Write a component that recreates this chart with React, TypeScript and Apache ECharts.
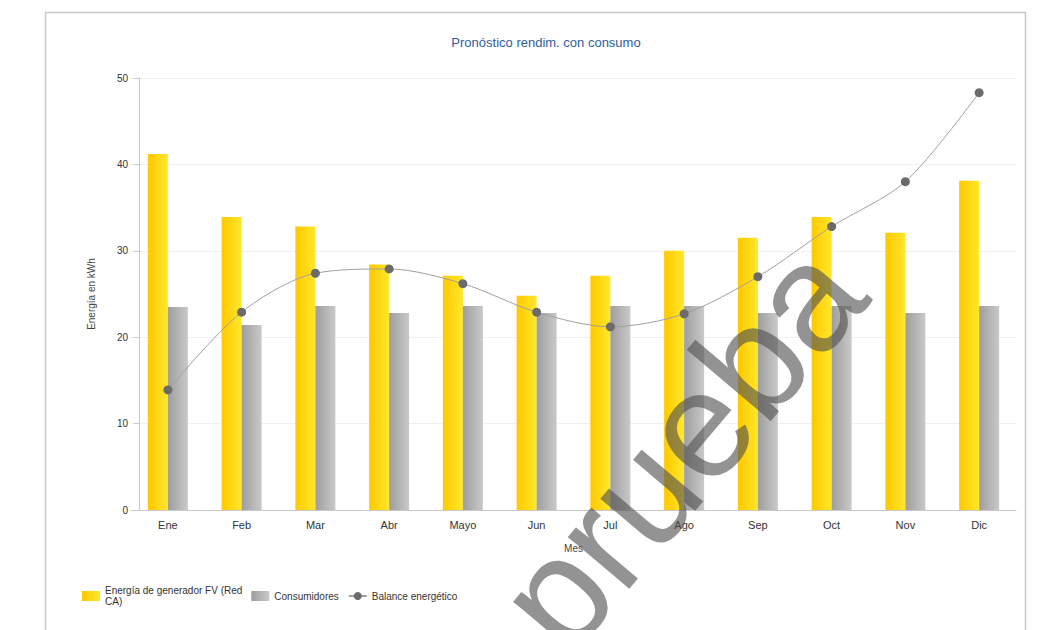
import React, { useEffect, useRef } from "react";
import * as echarts from "echarts";

const months = ["Ene", "Feb", "Mar", "Abr", "Mayo", "Jun", "Jul", "Ago", "Sep", "Oct", "Nov", "Dic"];
const generacionFV = [41.2, 33.9, 32.8, 28.4, 27.1, 24.8, 27.1, 30.0, 31.5, 33.9, 32.1, 38.1];
const consumidores = [23.5, 21.4, 23.6, 22.8, 23.6, 22.8, 23.6, 23.6, 22.8, 23.6, 22.8, 23.6];
const balance = [13.9, 22.9, 27.4, 27.9, 26.2, 22.9, 21.2, 22.7, 27.0, 32.8, 38.0, 48.3];
const yTicks = { min: 0, max: 50, interval: 10 };

const FONT = "Liberation Sans, Arial, sans-serif";

export default function App() {
  const ref = useRef<HTMLDivElement>(null);
  useEffect(() => {
    if (!ref.current) return;
    const chart = echarts.init(ref.current, null, { renderer: "svg" });
    const yellow = new echarts.graphic.LinearGradient(0, 0, 1, 0, [
      { offset: 0, color: "#FFC800" },
      { offset: 1, color: "#FFE82A" },
    ]);
    const gray = new echarts.graphic.LinearGradient(0, 0, 1, 0, [
      { offset: 0, color: "#9E9E9E" },
      { offset: 1, color: "#C9C9C9" },
    ]);
    chart.setOption({
      animation: false,
      backgroundColor: "#ffffff",
      textStyle: { fontFamily: FONT },
      title: {
        text: "Pronóstico rendim. con consumo",
        left: 541,
        textAlign: "center",
        top: 31,
        textStyle: { color: "#2F5D9B", fontSize: 13, fontWeight: "normal", fontFamily: FONT },
      },
      graphic: [
        {
          type: "rect",
          shape: { x: 45.5, y: 12.5, width: 980, height: 640 },
          style: { fill: "none", stroke: "#c8c8c8", lineWidth: 1.5 },
          silent: true,
          z: -1,
        },
        {
          type: "text",
          x: 612,
          y: 527,
          rotation: 0.87,
          style: {
            text: "de prueba",
            fill: "rgba(80,80,80,0.62)",
            font: "normal 152px Liberation Sans Narrow, Liberation Sans, Arial, sans-serif",
            align: "center",
            verticalAlign: "middle",
          },
          silent: true,
          z: 100,
        },
      ],
      legend: {
        left: 82,
        top: 585,
        padding: 0,
        itemWidth: 18,
        itemHeight: 10,
        itemGap: 9,
        formatter: (name: string) => name.replace(" CA)", "\nCA)"),
        textStyle: { fontSize: 10, color: "#333", lineHeight: 11 },
        data: [
          { name: "Energía de generador FV (Red CA)", icon: "rect" },
          { name: "Consumidores", icon: "rect" },
          { name: "Balance energético" },
        ],
      },
      grid: { left: 131, right: 39, top: 78, bottom: 120, containLabel: false },
      xAxis: {
        type: "category",
        data: months,
        name: "Mes",
        nameLocation: "middle",
        nameGap: 33,
        nameTextStyle: { fontSize: 10, color: "#444" },
        axisLine: { lineStyle: { color: "#c8c8c8" } },
        axisTick: { alignWithLabel: true, length: 5, lineStyle: { color: "#c8c8c8" } },
        axisLabel: { fontSize: 11, color: "#333", margin: 9 },
      },
      yAxis: {
        type: "value",
        min: yTicks.min,
        max: yTicks.max,
        interval: yTicks.interval,
        offset: -8,
        name: "Energía en kWh",
        nameLocation: "middle",
        nameGap: 43,
        nameTextStyle: { fontSize: 10, color: "#444" },
        axisLine: { show: true, lineStyle: { color: "#c8c8c8" } },
        axisTick: { show: true, length: 5, lineStyle: { color: "#c8c8c8" } },
        axisLabel: { fontSize: 10, color: "#333", margin: 11 },
        splitLine: { lineStyle: { color: "#f0f0f0" } },
      },
      series: [
        {
          name: "Energía de generador FV (Red CA)",
          type: "bar",
          data: generacionFV,
          barWidth: 20,
          barGap: "0%",
          itemStyle: { color: yellow },
        },
        {
          name: "Consumidores",
          type: "bar",
          data: consumidores,
          barWidth: 20,
          barGap: "0%",
          itemStyle: { color: gray },
        },
        {
          name: "Balance energético",
          type: "line",
          data: balance,
          smooth: 0.3,
          symbol: "circle",
          symbolSize: 9,
          lineStyle: { color: "#a0a0a0", width: 1 },
          itemStyle: { color: "#6b6b6b", borderWidth: 0 },
          z: 5,
        },
      ],
    });
    return () => chart.dispose();
  }, []);
  return (
    <div
      ref={ref}
      style={{ position: "fixed", left: 0, top: 0, width: 1055, height: 630 }}
    />
  );
}
